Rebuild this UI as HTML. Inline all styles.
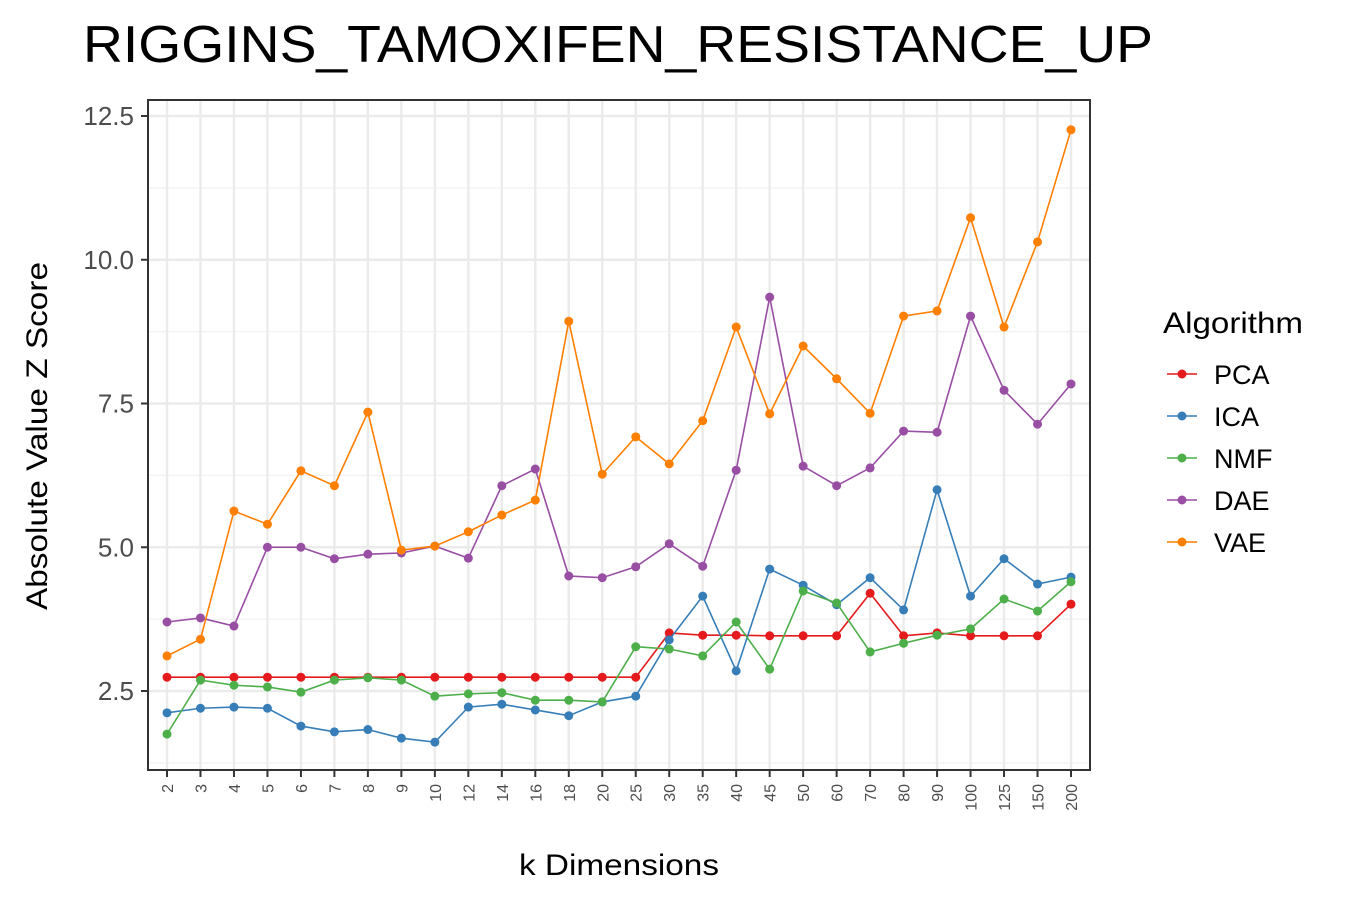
<!DOCTYPE html>
<html><head><meta charset="utf-8"><style>
body{margin:0;background:#fff;font-family:"Liberation Sans",Arial,sans-serif}
svg{display:block}
</style></head><body>
<svg id="chart" width="1350" height="900" xmlns="http://www.w3.org/2000/svg">
<rect width="1350" height="900" fill="#fff"/>
<text x="83" y="62" font-size="52" fill="#000" textLength="1070" lengthAdjust="spacingAndGlyphs">RIGGINS_TAMOXIFEN_RESISTANCE_UP</text>
<g id="grid"></g>
<g id="axes"></g>
<g id="series"></g>
<text transform="translate(47,436) rotate(-90)" text-anchor="middle" font-size="30" fill="#000" textLength="348" lengthAdjust="spacingAndGlyphs">Absolute Value Z Score</text>
<text x="619" y="875" text-anchor="middle" font-size="30" fill="#000" textLength="200" lengthAdjust="spacingAndGlyphs">k Dimensions</text>
<g id="legend">
<text x="1163" y="333" font-size="30" fill="#000" textLength="140" lengthAdjust="spacingAndGlyphs">Algorithm</text>
</g>
</svg>
<script>
const categories=["2","3","4","5","6","7","8","9","10","12","14","16","18","20","25","30","35","40","45","50","60","70","80","90","100","125","150","200"];
const pca=[2.74,2.74,2.74,2.74,2.74,2.74,2.74,2.74,2.74,2.74,2.74,2.74,2.74,2.74,2.74,3.51,3.47,3.47,3.46,3.46,3.46,4.20,3.46,3.51,3.46,3.46,3.46,4.01];
const ica=[2.12,2.20,2.22,2.20,1.89,1.79,1.83,1.68,1.61,2.22,2.27,2.17,2.07,2.31,2.41,3.39,4.15,2.85,4.62,4.34,4.00,4.47,3.91,6.00,4.15,4.80,4.36,4.48];
const nmf=[1.75,2.69,2.60,2.57,2.48,2.69,2.73,2.69,2.41,2.45,2.47,2.34,2.34,2.31,3.27,3.23,3.11,3.70,2.88,4.24,4.03,3.18,3.33,3.47,3.58,4.10,3.89,4.40];
const dae=[3.70,3.77,3.63,5.00,5.00,4.80,4.88,4.90,5.02,4.81,6.07,6.36,4.50,4.47,4.66,5.06,4.67,6.34,9.35,6.41,6.07,6.38,7.02,7.00,9.02,7.73,7.14,7.84];
const vae=[3.11,3.40,5.63,5.40,6.33,6.07,7.35,4.95,5.02,5.27,5.56,5.82,8.93,6.27,6.92,6.45,7.20,8.83,7.32,8.50,7.93,7.33,9.02,9.11,10.73,8.83,10.31,12.26];
const seriesNames=["PCA","ICA","NMF","DAE","VAE"];
const yTicks=[2.5,5.0,7.5,10.0,12.5];
const yTickLabels=["2.5","5.0","7.5","10.0","12.5"];

const NS="http://www.w3.org/2000/svg";
const L=148,R=1090,T=100,B=770;
const colors=["#E41A1C","#377EB8","#4DAF4A","#984EA3","#FF7F00"];
const allSeries=[pca,ica,nmf,dae,vae];
function x(i){return 167+i*(1071-167)/(categories.length-1);}
function y(v){return 116+(12.5-v)*57.5;}
function mk(tag,attrs,parent){const e=document.createElementNS(NS,tag);for(const k in attrs)e.setAttribute(k,attrs[k]);parent.appendChild(e);return e;}
const grid=document.getElementById('grid'),axes=document.getElementById('axes'),ser=document.getElementById('series'),leg=document.getElementById('legend');
mk('rect',{x:L,y:T,width:R-L,height:B-T,fill:'#fff'},grid);
for(let k=0;k<yTicks.length;k++){
  const mv=yTicks[k]-1.25;
  if(y(mv)<B&&y(mv)>T){const m=mk('line',{x1:L,x2:R,y1:y(mv),y2:y(mv),stroke:'#F2F2F2','stroke-width':1.2},grid);
  
  }
}
yTicks.forEach((v,k)=>{
  const g=mk('line',{x1:L,x2:R,y1:y(v),y2:y(v),stroke:'#EBEBEB','stroke-width':2.4},grid);
  
  
  mk('line',{x1:L-7,x2:L,y1:y(v),y2:y(v),stroke:'#333','stroke-width':2},axes);
  const t=mk('text',{x:L-14,y:y(v)+9,'text-anchor':'end','font-size':26,fill:'#4D4D4D'},axes);
  t.textContent=yTickLabels[k];
  
  
});
categories.forEach((c,i)=>{
  const g=mk('line',{x1:x(i),x2:x(i),y1:T,y2:B,stroke:'#EBEBEB','stroke-width':2.4},grid);
  
  
  mk('line',{x1:x(i),x2:x(i),y1:B,y2:B+7,stroke:'#333','stroke-width':2},axes);
  const t=mk('text',{transform:`translate(${x(i)+6},${B+14}) rotate(-90)`,'text-anchor':'end','font-size':16,fill:'#4D4D4D'},axes);
  t.textContent=c;
  
  
});
mk('rect',{x:L,y:T,width:R-L,height:B-T,fill:'none',stroke:'#333','stroke-width':2},axes);
allSeries.forEach((d,s)=>{
  const g=mk('g',{},ser);
  
  
  const p=mk('polyline',{points:d.map((v,i)=>x(i)+','+y(v)).join(' '),fill:'none',stroke:colors[s],'stroke-width':1.6},g);
  
  
  d.forEach((v,i)=>{
    const c=mk('circle',{cx:x(i),cy:y(v),r:4.5,fill:colors[s]},g);
    
    
  });
  const ly=374+s*42;
  const le=mk('g',{},leg);
  
  
  mk('line',{x1:1167,x2:1197,y1:ly,y2:ly,stroke:colors[s],'stroke-width':1.6},le);
  mk('circle',{cx:1182,cy:ly,r:4.5,fill:colors[s]},le);
  const t=mk('text',{x:1214,y:ly+10,'font-size':27,fill:'#000'},le);
  t.textContent=seriesNames[s];
});
</script>
</body></html>
